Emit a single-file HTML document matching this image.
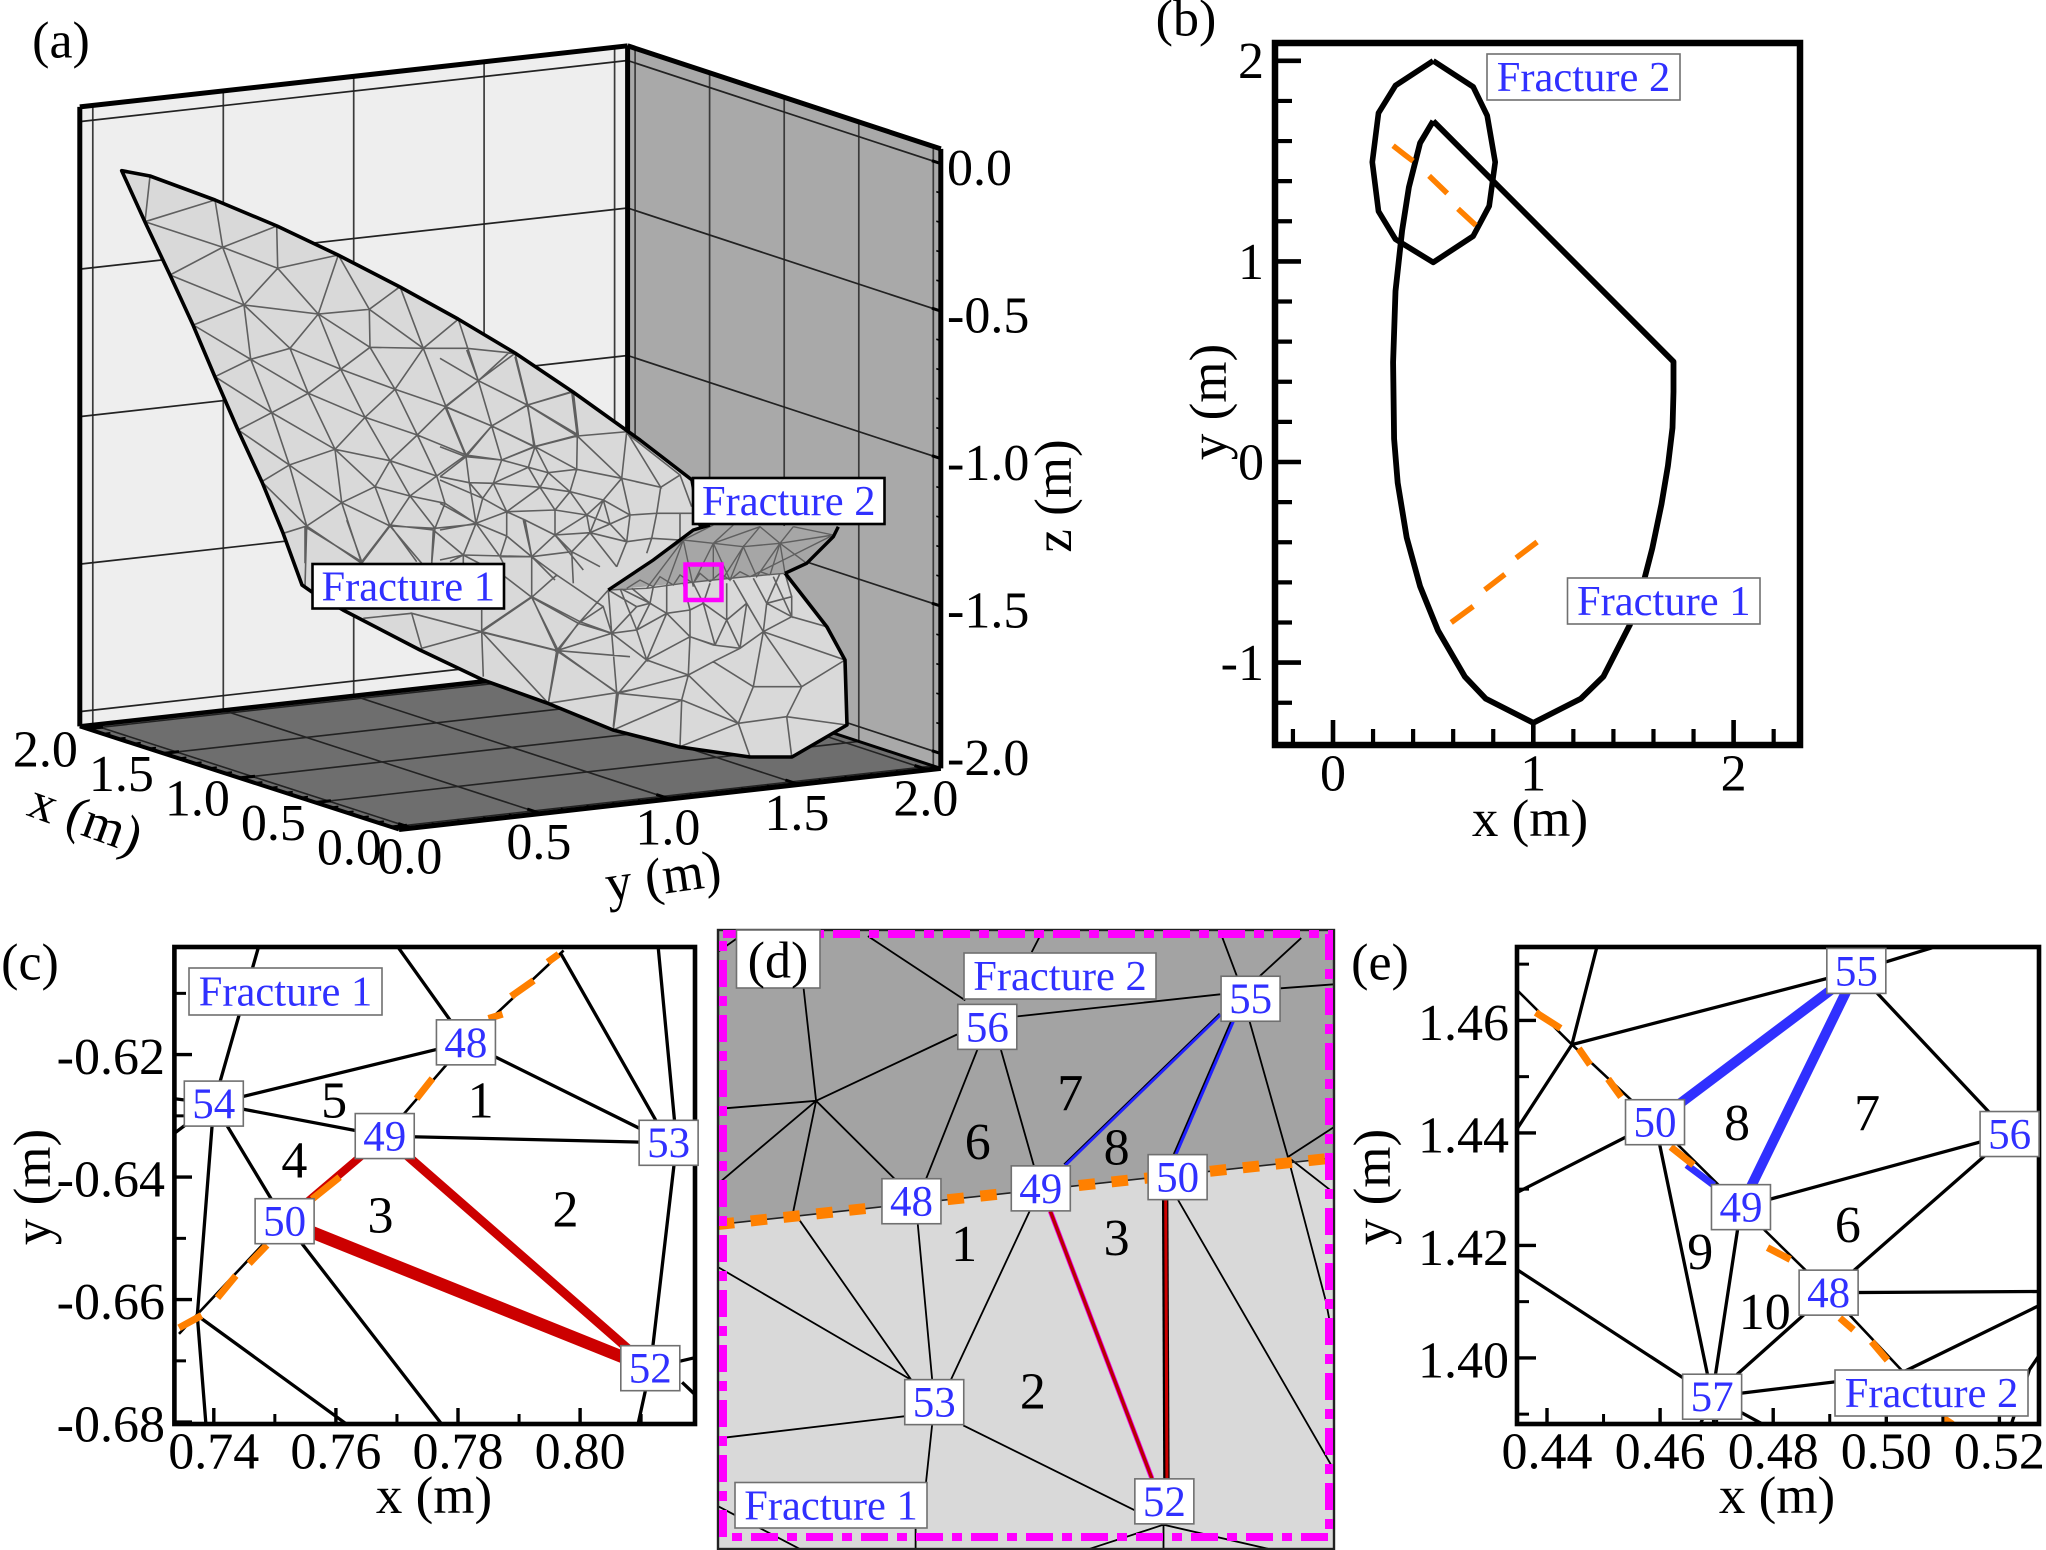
<!DOCTYPE html>
<html lang="en">
<head>
<meta charset="utf-8">
<title>Fracture mesh figure</title>
<style>
html,body{margin:0;padding:0;background:#fff;}
svg{display:block;}
text{font-family:"Liberation Serif",serif;}
</style>
</head>
<body>
<svg id="figure" xmlns="http://www.w3.org/2000/svg" width="2046" height="1550" viewBox="0 0 2046 1550">
<rect x="0" y="0" width="2046" height="1550" fill="#ffffff"/>
<defs>
<clipPath id="clipB"><rect x="1275" y="43" width="525" height="702"/></clipPath>
<clipPath id="clipC"><rect x="174" y="947" width="521" height="477"/></clipPath>
<clipPath id="clipD"><rect x="718" y="930" width="616" height="619"/></clipPath>
<clipPath id="clipE"><rect x="1517" y="947" width="522" height="477"/></clipPath>
</defs>
<g id="panelA"></g>
<g id="panelB"></g>
<g id="panelC"></g>
<g id="panelD"></g>
<g id="panelE"></g>
</svg>
<script>
/* ---------- Panel (a): axes ---------- */
const aTicks = [0, 0.5, 1, 1.5, 2];
const aTickLabels = ['0.0', '0.5', '1.0', '1.5', '2.0'];
const aZTicks = [0, -0.5, -1, -1.5, -2];
const aZTickLabels = ['0.0', '-0.5', '-1.0', '-1.5', '-2.0'];
const aMinorTicks = [0.1, 0.2, 0.3, 0.4, 0.6, 0.7, 0.8, 0.9, 1.1, 1.2, 1.3, 1.4, 1.6, 1.7, 1.8, 1.9];
const aRange = [-0.05, 2.05];
const aZRange = [-2.05, 0.05];

/* Panel (a) fracture surfaces, in unitless view-plane mesh coordinates. */
const f1OutlineU = [365, 450, 645, 831, 1014, 1200, 1374, 1545, 1719, 1920, 2076, 2100, 2355, 2481, 2535, 2541, 2376, 2250, 2040, 1839, 1641, 1449, 1260, 1029, 936, 906, 849, 786, 714, 645, 579, 510, 435];
const f1OutlineV = [512, 528, 600, 678, 765, 861, 957, 1059, 1176, 1320, 1440, 1575, 1719, 1881, 1980, 2175, 2271, 2271, 2241, 2190, 2109, 2040, 1950, 1830, 1776, 1755, 1599, 1446, 1290, 1131, 975, 825, 666];
const f1UpperChains = [
 [270,108,255,245,465,180,488,322,650,258,653,385,835,345,928,508,1020,440,1090,625,1195,538,1255,722,1365,640,1403,795,1540,755,1555,885,1403,795],
 [255,245,488,322,653,385,775,522,928,508,1090,625,1220,625,1365,640],
 [330,405,488,322,552,495,330,405],
 [400,555,552,495,653,385],
 [552,495,775,522,835,345],
 [928,508,930,622,1090,625],
 [400,555,572,658,552,495,690,625,775,522,842,688,930,622,775,522],
 [465,710,572,658,690,625,842,688,1005,748,1158,800,1295,858,1422,920,1555,885],
 [930,622,1005,748,1090,625,1158,800,1255,722,1295,858,1403,795,1422,920],
 [930,622,842,688],
 [465,710,635,818,745,760,915,832,1072,885,1218,945,1325,960,1422,920],
 [572,658,635,818,688,975,825,928,990,962,1130,1008],
 [572,658,745,760,690,625],
 [745,760,842,688,915,832,1005,748,1072,885,1158,800,1218,945,1295,858,1325,960],
 [535,870,635,818,825,928,745,760],
 [825,928,915,832,990,962,1072,885,1130,1008,1218,945],
 [535,870,688,975,605,1025,740,1158,670,1180],
 [688,975,845,1088,825,928,945,1040,990,962,1050,1068,1130,1008,1155,1090,1050,1068,945,1040,845,1088,740,1158,905,1270],
 [688,975,740,1158,735,1340],
 [845,1088,990,1158,945,1040],
 [845,1088,905,1270,990,1158,1085,1270],
 [990,1158,1050,1068,1125,1165,1155,1090,1250,1152,1125,1165,990,1158],
 [1125,1165,1115,1270]
];
const f1CenterChains = [
 [80,0,115,92,210,5],
 [0,25,115,92,15,170,155,228,115,92,262,165,225,20],
 [262,165,155,228,285,290,262,165,395,125,412,258,262,165],
 [155,228,78,320,15,170],
 [155,228,185,330,78,320,0,290],
 [412,258,285,290,185,330],
 [412,258,560,245,545,385,412,258,410,358,285,290],
 [560,245,662,412,545,385,410,358,325,368,285,290,265,352,185,330],
 [662,412,720,375,560,250],
 [720,375,755,470],
 [662,412,650,490,570,495,545,385],
 [265,352,325,368,300,412,265,352,160,400,185,330],
 [78,320,88,398,0,380],
 [78,320,0,380],
 [88,398,160,400,128,445,88,398],
 [160,400,300,412,390,425,410,358],
 [325,368,390,425,490,450,545,385],
 [160,400,200,485,128,445,108,520,88,398],
 [300,412,345,480,390,425,440,495,490,450,510,522,440,495,345,480,200,485,300,412],
 [345,480,345,555,440,495],
 [490,450,570,495,510,522],
 [200,485,108,520,200,558,200,485,255,510,345,555,275,620,255,510],
 [108,520,70,615],
 [108,520,180,620,200,558,275,620,180,620],
 [345,555,450,548,510,522,560,575,570,495],
 [440,495,450,548,395,605,345,555],
 [395,605,275,620],
 [560,575,635,565,650,490],
 [635,565,720,570,720,490,755,490,650,490],
 [275,620,275,720],
 [395,605,400,700],
 [395,605,480,650],
 [560,575,530,650],
 [635,565,620,610],
 [720,570,740,620],
 [450,548,560,575],
 [0,460,108,520],
 [0,540,108,520],
 [0,390,128,445],
 [180,620,190,640],
 [70,615,0,630],
 [70,615,70,640],
 [490,450,450,548],
 [395,605,450,548],
 [450,548,530,650],
 [345,555,395,605],
 [275,620,345,690],
 [345,555,430,660]
];
const f1LowerChains = [
 [0,575,155,470,300,545,395,580,470,570,500,660,395,580,230,632,300,545],
 [155,470,230,632,0,575],
 [230,632,205,790],
 [230,632,415,760,500,660,625,705,700,665,780,625,850,575,935,530,1040,560],
 [415,760,400,870,605,780,600,920,775,850,810,950],
 [415,760,605,780,625,705,775,850,605,780],
 [415,760,625,705],
 [775,850,820,740,700,665],
 [775,850,920,830,1100,855],
 [920,830,935,950],
 [820,740,965,740,920,830],
 [820,740,850,575,965,740,1095,660,850,575],
 [385,450,395,580,300,545,385,450],
 [420,445,470,570,510,490,560,520,470,570],
 [385,450,470,500,395,580],
 [470,500,510,490,420,445],
 [455,445,510,490,520,440],
 [560,430,560,520,630,590,700,615,780,625],
 [560,520,500,660,630,590,625,705],
 [610,430,630,510,560,520],
 [630,510,630,590],
 [630,510,670,490,640,430],
 [670,490,705,615,630,590],
 [670,490,690,430],
 [670,490,740,540,705,615],
 [740,540,780,625],
 [740,430,740,540,800,490,760,420],
 [800,490,780,625],
 [800,490,850,575,860,490,820,415],
 [860,490,935,530,880,410],
 [860,490,900,400],
 [860,490,935,470,935,530],
 [935,470,915,400]
];
const f1LeftChains = [
 [15,20,185,125,270,15,350,125],
 [15,20,15,130],
 [185,125,140,0],
 [270,15,400,30,395,125],
 [400,30,490,105,530,5],
 [490,105,695,110,695,232,615,170],
 [490,105,450,125],
 [490,105,615,170],
 [695,110,670,0],
 [695,110,770,165,695,232],
 [695,232,835,310,775,392,695,232],
 [695,232,545,335,775,392,950,518,935,340,835,310,910,260,935,340],
 [545,335,335,280,365,385,545,335],
 [545,270,545,335,550,470],
 [545,335,745,550,775,392],
 [745,550,950,518,940,620],
 [950,518,990,510],
 [775,392,990,410],
 [335,280,190,295],
 [910,260,770,165]
];
const f2OutlineU = [385, 520, 640, 690, 1075, 1060, 980, 915];
const f2OutlineV = [450, 360, 270, 255, 260, 290, 370, 400];
const f2Chains = [
 [385,450,500,445,610,430,700,420,800,410,915,400],
 [500,445,610,300,640,440],
 [560,435,610,300],
 [640,430,700,310,700,420],
 [700,310,750,420,790,320,830,410,900,310,870,405],
 [790,320,720,430],
 [900,310,915,400],
 [900,310,980,370],
 [1060,285,900,310],
 [610,300,700,310,790,320,900,310],
 [610,300,700,255],
 [700,310,760,255],
 [790,320,840,260],
 [900,310,940,260],
 [700,310,840,260,900,310],
 [1060,285,940,260],
 [1060,285,830,400],
 [385,450,610,300],
 [440,445,480,420,520,440,540,410,580,435,600,405,640,430,660,400,690,425,720,400,750,420,780,395,810,410,840,395,870,405]
];

/* ---------- Panel (b) ---------- */
const bXMajor = [0, 1, 2];
const bYMajor = [-1, 0, 1, 2];
const bXMinor = [-0.2, 0.2, 0.4, 0.6, 0.8, 1.2, 1.4, 1.6, 1.8, 2.2];
const bYMinor = [-1.2, -0.8, -0.6, -0.4, -0.2, 0.2, 0.4, 0.6, 0.8, 1.2, 1.4, 1.6, 1.8];
const bFracture1X = [0.5, 1.7, 1.7, 1.695, 1.672, 1.64, 1.594, 1.55, 1.483, 1.35, 1.237, 1, 0.763, 0.658, 0.524, 0.435, 0.368, 0.323, 0.305, 0.3, 0.312, 0.345, 0.379, 0.435, 0.5];
const bFracture1Y = [1.7, 0.5, 0.35, 0.17, -0.02, -0.21, -0.43, -0.6, -0.81, -1.07, -1.18, -1.3, -1.18, -1.07, -0.84, -0.62, -0.377, -0.104, 0.115, 0.497, 0.852, 1.153, 1.37, 1.59, 1.7];
const bFracture2X = [0.5, 0.7, 0.77, 0.81, 0.78, 0.7, 0.5, 0.312, 0.227, 0.196, 0.227, 0.312, 0.5];
const bFracture2Y = [2.0, 1.87, 1.727, 1.495, 1.276, 1.126, 0.995, 1.11, 1.25, 1.495, 1.74, 1.877, 2.0];
const bCutX = [[0.3, 0.36, 0.4], [0.48, 0.57], [0.624, 0.713], [0.59, 0.7], [0.758, 0.858], [0.914, 1.019]];
const bCutY = [[1.577, 1.53, 1.5], [1.426, 1.339], [1.262, 1.18], [-0.8, -0.72], [-0.637, -0.56], [-0.478, -0.399]];

/* ---------- Panel (c) ---------- */
const cXMajor = [0.74, 0.76, 0.78, 0.80];
const cXLabels = ['0.74', '0.76', '0.78', '0.80'];
const cXMinor = [0.75, 0.77, 0.79, 0.81];
const cYMajor = [-0.62, -0.64, -0.66, -0.68];
const cYLabels = ['-0.62', '-0.64', '-0.66', '-0.68'];
const cYMinor = [-0.61, -0.63, -0.65, -0.67];
const cNodeIds = ['48', '49', '50', '52', '53', '54'];
const cNodeX = [0.7813, 0.768, 0.7516, 0.8115, 0.8145, 0.74];
const cNodeY = [-0.618, -0.6333, -0.6472, -0.6712, -0.6344, -0.628];
const cCellIds = ['1', '2', '3', '4', '5'];
const cCellX = [0.7837, 0.7976, 0.7673, 0.7532, 0.7597];
const cCellY = [-0.6274, -0.6452, -0.6462, -0.6372, -0.6274];
const cMeshX = [[0.7473,0.74],[0.7702,0.7813],[0.7813,0.74],[0.74,0.768,0.8145],[0.7813,0.8145],[0.7969,0.8145],[0.8128,0.8158,0.8115],[0.8115,0.8095],[0.8115,0.8187],[0.8167,0.8187],[0.74,0.7336],[0.74,0.7336],[0.74,0.7373,0.7387],[0.7373,0.7617],[0.74,0.7516,0.7773]];
const cMeshY = [[-0.6025,-0.628],[-0.6025,-0.618],[-0.618,-0.628],[-0.628,-0.6333,-0.6344],[-0.618,-0.6344],[-0.6036,-0.6344],[-0.6025,-0.6344,-0.6712],[-0.6712,-0.6803],[-0.6712,-0.6695],[-0.6735,-0.6754],[-0.628,-0.6328],[-0.628,-0.6272],[-0.628,-0.6626,-0.6803],[-0.6626,-0.6803],[-0.628,-0.6472,-0.6803]];
const cFractureX = [0.7973, 0.7813, 0.768, 0.7516, 0.7343];
const cFractureY = [-0.603, -0.618, -0.6333, -0.6472, -0.6656];
const cRedX = [[0.768, 0.7516], [0.768, 0.8115], [0.7516, 0.8115]];
const cRedY = [[-0.6333, -0.6472], [-0.6333, -0.6712], [-0.6472, -0.6712]];
const cDashX = [[0.7947,0.7965],[0.7887,0.7924],[0.785,0.7873],[0.7732,0.7758],[0.7561,0.7606],[0.7458,0.7487],[0.7406,0.7436],[0.7343,0.738]];
const cDashY = [[-0.6049,-0.6036],[-0.6105,-0.6079],[-0.6141,-0.6134],[-0.6272,-0.6239],[-0.6436,-0.64],[-0.6541,-0.6511],[-0.6597,-0.6561],[-0.6646,-0.6626]];

/* ---------- Panel (d): unitless mesh coordinates (no axes in the panel) ---------- */
const dNodeIds = ['48', '49', '50', '52', '53', '55', '56'];
const dNodeU = [510, 822, 1152, 1120, 565, 1328, 693];
const dNodeV = [700, 668, 640, 1447, 1200, 196, 266];
const dCellIds = ['1', '2', '3', '6', '7', '8'];
const dCellU = [637, 803, 1005, 670, 893, 1005];
const dCellV = [805, 1172, 790, 552, 430, 565];
const dDividerU = [43, 1530];
const dDividerV = [758, 592];
const dMeshChains = [
 [250,170,280,450],[405,40,640,200],[825,30,800,80],[620,285,280,450],[1255,30,1295,140],[1450,45,1350,140],
 [765,240,1255,185],[1400,170,1530,160],[670,320,545,645],[725,320,805,610],[280,450,470,645],[280,450,225,725],
 [280,450,45,470],[280,450,45,655],[1325,250,1418,590],[1418,590,1530,515],[1418,590,1530,680],[1418,590,1510,950,1530,1060],
 [45,78,90,45],[225,725,510,1145],[525,755,560,1145],[795,725,605,1145],[45,865,510,1145],[45,1290,495,1235],[560,1255,545,1400],
 [635,1258,1050,1470],[1152,695,1530,1370],[1118,1505,940,1565],[1118,1505,1118,1565],[1118,1505,1370,1565],[520,1515,520,1565],[45,1460,240,1565]
];
const dFractureLine1U = [845, 1090];
const dFractureLine1V = [725, 1390];
const dFractureLine2U = [1122, 1125];
const dFractureLine2V = [695, 1390];
const dBlueLine1U = [880, 1255];
const dBlueLine1V = [610, 235];
const dBlueLine2U = [1145, 1285];
const dBlueLine2V = [585, 250];

/* ---------- Panel (e) ---------- */
const eXMajor = [0.44, 0.46, 0.48, 0.50, 0.52];
const eXLabels = ['0.44', '0.46', '0.48', '0.50', '0.52'];
const eXMinor = [0.45, 0.47, 0.49, 0.51];
const eYMajor = [1.46, 1.44, 1.42, 1.40];
const eYLabels = ['1.46', '1.44', '1.42', '1.40'];
const eYMinor = [1.47, 1.45, 1.43, 1.41, 1.39];
const eNodeIds = ['50', '49', '48', '55', '56', '57'];
const eNodeX = [0.4591, 0.4743, 0.4898, 0.4947, 0.5218, 0.4692];
const eNodeY = [1.4419, 1.4268, 1.4116, 1.4688, 1.4398, 1.3931];
const eCellIds = ['8', '7', '6', '9', '10'];
const eCellX = [0.4736, 0.4966, 0.4932, 0.4671, 0.4785];
const eCellY = [1.4418, 1.4436, 1.4237, 1.4189, 1.4082];
const eMeshX = [[0.4488,0.4444,0.4347],[0.4444,0.4947,0.5081],[0.4947,0.5218],[0.4591,0.4347],[0.4743,0.5218],[0.5218,0.4898],[0.4898,0.527],[0.4898,0.4692],[0.4591,0.4692],[0.4743,0.4692],[0.4347,0.4692],[0.4692,0.5022,0.527],[0.5221,0.5253,0.527],[0.4692,0.4782],[0.4692,0.4671],[0.4692,0.4695]];
const eMeshY = [[1.473,1.4557,1.4407],[1.4557,1.4688,1.4729],[1.4688,1.4398],[1.4419,1.4294],[1.4268,1.4398],[1.4398,1.4116],[1.4116,1.4118],[1.4116,1.3931],[1.4419,1.3931],[1.4268,1.3931],[1.4157,1.3931],[1.3931,1.3971,1.4093],[1.3882,1.3979,1.4004],[1.3931,1.3882],[1.3931,1.3882],[1.3931,1.3882]];
const eFractureX = [0.4347, 0.4444, 0.4591, 0.4743, 0.4898, 0.5117];
const eFractureY = [1.4654, 1.4557, 1.4419, 1.4268, 1.4116, 1.3882];
const eBlueX = [[0.4591, 0.4947], [0.4743, 0.4947], [0.4647, 0.4695]];
const eBlueY = [[1.4419, 1.4688], [1.4268, 1.4688], [1.4343, 1.4307]];
const eDashX = [[0.438,0.4424],[0.4456,0.4476],[0.4508,0.4531],[0.4619,0.4659],[0.479,0.483],[0.4918,0.4942],[0.4974,0.5002],[0.5101,0.5117]];
const eDashY = [[1.4614,1.4586],[1.455,1.4521],[1.4496,1.4464],[1.4375,1.4343],[1.4196,1.4175],[1.4071,1.405],[1.4029,1.3996],[1.3893,1.3882]];

/* ---------- Helpers ---------- */
const NS = 'http://www.w3.org/2000/svg';
const BLUE = '#3030ff';
const ORANGE = '#ff8000';
const TICK_FS = 52;
const TITLE_FS = 53;
const CELL_FS = 52;
const NODE_FS = 43;
const FRAC_FS = 42.5;
function add(parent, tag, name, attrs) {
  const el = document.createElementNS(NS, tag);
  
  
  for (const k in attrs) el.setAttribute(k, attrs[k]);
  parent.appendChild(el);
  return el;
}
function seg(parent, name, x1, y1, x2, y2, stroke, width) {
  return add(parent, 'line', name, {x1: x1, y1: y1, x2: x2, y2: y2, stroke: stroke, 'stroke-width': width});
}
function label(parent, name, x, cy, str, size, anchor, fill, rotate) {
  const el = add(parent, 'text', name, {x: x, y: cy + size * 0.335, 'font-size': size, 'text-anchor': anchor || 'middle', fill: fill || '#000'});
  if (rotate) el.setAttribute('transform', 'rotate(' + rotate + ' ' + x + ' ' + cy + ')');
  el.textContent = str;
  return el;
}
function boxLabel(parent, name, x, y, w, h, str, size, stroke, sw) {
  add(parent, 'rect', name + '-box', {x: x, y: y, width: w, height: h, fill: '#fff', stroke: stroke || '#707070', 'stroke-width': sw || 1.6});
  label(parent, name, x + w / 2, y + h / 2, str, size, 'middle', BLUE);
}
function polyD(xs, ys, sx, sy, close) {
  let d = '';
  for (let i = 0; i < xs.length; i++) d += (i ? 'L' : 'M') + sx(xs[i]).toFixed(1) + ' ' + sy(ys[i]).toFixed(1);
  return d + (close ? 'Z' : '');
}
function chainsD(chains, sx, sy) {
  let d = '';
  for (const c of chains) {
    for (let i = 0; i < c.length; i += 2) d += (i ? 'L' : 'M') + sx(c[i]).toFixed(1) + ' ' + sy(c[i + 1]).toFixed(1);
  }
  return d;
}
function nestedD(xss, yss, sx, sy) {
  let d = '';
  xss.forEach((xs, k) => { d += polyD(xs, yss[k], sx, sy); });
  return d;
}

/* ---------- Panel (a) drawing ---------- */
(function () {
  const g = document.getElementById('panelA');
  function project3d(x, y, z) {
    const a = x + 0.05, b = y + 0.05, c = z + 2.05;
    return [399 - 152 * a + 258 * b + 6 * (a / 2.1) * (b / 2.1), 829.5 - 49.1 * a - 29.1 * b - 295 * c];
  }
  const [lo, hi] = aRange, [zlo, zhi] = aZRange;
  function face(name, pts, fill) {
    add(g, 'polygon', name, {points: pts.map(p => project3d(p[0], p[1], p[2]).map(v => v.toFixed(1)).join(',')).join(' '), fill: fill});
  }
  function line3(name, a, b, stroke, w) {
    const p = project3d(a[0], a[1], a[2]), q = project3d(b[0], b[1], b[2]);
    return seg(g, name, p[0].toFixed(1), p[1].toFixed(1), q[0].toFixed(1), q[1].toFixed(1), stroke, w);
  }
  face('left-wall', [[hi, lo, zlo], [hi, hi, zlo], [hi, hi, zhi], [hi, lo, zhi]], '#eeeeee');
  face('right-wall', [[hi, hi, zlo], [lo, hi, zlo], [lo, hi, zhi], [hi, hi, zhi]], '#a9a9a9');
  face('floor', [[hi, lo, zlo], [hi, hi, zlo], [lo, hi, zlo], [lo, lo, zlo]], '#6e6e6e');
  for (const t of aTicks) {
    line3('left-wall-grid-y', [hi, t, zlo], [hi, t, zhi], '#3a3a3a', 1.7);
    line3('right-wall-grid-x', [t, hi, zlo], [t, hi, zhi], '#3a3a3a', 1.7);
    line3('floor-grid-y', [lo, t, zlo], [hi, t, zlo], '#222', 1.6);
    line3('floor-grid-x', [t, lo, zlo], [t, hi, zlo], '#222', 1.6);
  }
  for (const z of aZTicks) {
    line3('left-wall-grid-z', [hi, lo, z], [hi, hi, z], '#222', 1.7);
    line3('right-wall-grid-z', [lo, hi, z], [hi, hi, z], '#222', 1.7);
  }
  line3('back-vertical-edge', [hi, hi, zlo], [hi, hi, zhi], '#000', 5);
  line3('floor-back-left-edge', [hi, lo, zlo], [hi, hi, zlo], '#000', 4.5);
  line3('floor-back-right-edge', [hi, hi, zlo], [lo, hi, zlo], '#000', 3);
  line3('top-left-edge', [hi, lo, zhi], [hi, hi, zhi], '#000', 5);
  line3('top-right-edge', [hi, hi, zhi], [lo, hi, zhi], '#000', 5);
  line3('left-vertical-edge', [hi, lo, zlo], [hi, lo, zhi], '#000', 5);
  line3('z-axis-line', [lo, hi, zlo], [lo, hi, zhi], '#000', 5);
  line3('x-axis-line', [lo, lo, zlo], [hi, lo, zlo], '#000', 4);
  line3('y-axis-line', [lo, lo, zlo], [lo, hi, zlo], '#000', 5);

  for (const t of aMinorTicks) {
    line3('y-axis-minor-tick', [lo, t, zlo], [lo + 0.04, t, zlo], '#000', 1.8);
    line3('x-axis-minor-tick', [t, lo, zlo], [t, lo + 0.03, zlo], '#000', 1.8);
    line3('z-axis-minor-tick', [lo, hi, t - 2], [lo + 0.03, hi, t - 2], '#000', 1.6);
  }
  aTicks.forEach((t, i) => {
    line3('y-axis-tick', [lo, t, zlo], [lo + 0.09, t, zlo], '#000', 3);
    line3('x-axis-tick', [t, lo, zlo], [t, lo + 0.06, zlo], '#000', 3);
    let p = project3d(t, lo, zlo);
    label(g, 'x-tick-label', p[0] - 42, p[1] + 20, aTickLabels[i], TICK_FS);
    p = project3d(lo, t, zlo);
    label(g, 'y-tick-label', p[0] - 2, p[1] + 28, aTickLabels[i], TICK_FS);
  });
  aZTicks.forEach((z, i) => {
    line3('z-axis-tick', [lo, hi, z], [lo + 0.06, hi, z], '#000', 3);
    const p = project3d(lo, hi, z);
    label(g, 'z-tick-label', 947, p[1] + 4, aZTickLabels[i], TICK_FS, 'start');
  });
  label(g, 'x-axis-title', 86, 818, 'x (m)', TITLE_FS, 'middle', '#000', 20);
  label(g, 'y-axis-title', 663, 876, 'y (m)', TITLE_FS, 'middle', '#000', -8);
  label(g, 'z-axis-title', 1053, 496, 'z (m)', TITLE_FS, 'middle', '#000', -90);
  label(g, 'panel-a-label', 61, 40, '(a)', TICK_FS);

  /* view-plane scales for the mesh readings */
  const px = u => u / 3, py = v => v / 3;
  const upX = u => 60 + u / 3, upY = v => 140 + v / 3;
  const ceX = u => 440 + u / 3, ceY = v => 350 + v / 3;
  const loX = u => 480 + u / 3, loY = v => 440 + v / 3;
  const leX = u => 300 + u / 3, leY = v => 520 + v / 3;
  add(g, 'path', 'fracture-1-surface', {d: polyD(f1OutlineU, f1OutlineV, px, py, true), fill: '#d9d9d9', stroke: 'none'});
  add(g, 'path', 'fracture-1-mesh', {d: chainsD(f1UpperChains, upX, upY) + chainsD(f1CenterChains, ceX, ceY) + chainsD(f1LowerChains, loX, loY) + chainsD(f1LeftChains, leX, leY), fill: 'none', stroke: '#5f5f5f', 'stroke-width': 1.6});
  add(g, 'path', 'fracture-1-outline', {d: polyD(f1OutlineU, f1OutlineV, px, py, true), fill: 'none', stroke: '#000', 'stroke-width': 3.6, 'stroke-linejoin': 'round'});
  add(g, 'path', 'fracture-2-surface', {d: polyD(f2OutlineU, f2OutlineV, loX, loY, true), fill: '#a6a6a6', stroke: 'none'});
  add(g, 'path', 'fracture-2-mesh', {d: chainsD(f2Chains, loX, loY), fill: 'none', stroke: '#5f5f5f', 'stroke-width': 1.4});
  add(g, 'path', 'fracture-2-edge', {d: polyD(f2OutlineU.slice(0, 4), f2OutlineV.slice(0, 4), loX, loY) + polyD(f2OutlineU.slice(4), f2OutlineV.slice(4), loX, loY), fill: 'none', stroke: '#000', 'stroke-width': 3.4});
  add(g, 'rect', 'zoom-region-marker', {x: 685.5, y: 564.5, width: 36, height: 35.5, fill: 'none', stroke: '#ff00ff', 'stroke-width': 4.5});
  boxLabel(g, 'fracture-1-label', 312.5, 564, 191.5, 44.5, 'Fracture 1', FRAC_FS, '#000', 2.6);
  boxLabel(g, 'fracture-2-label', 693, 478, 191.5, 46, 'Fracture 2', FRAC_FS, '#000', 2.6);
})();

/* ---------- Panel (b) drawing ---------- */
(function () {
  const g = document.getElementById('panelB');
  const sx = x => 1333 + x * 200.3, sy = y => 462 - y * 200.6;
  const clip = add(g, 'g', 'panel-b-plot-area', {'clip-path': 'url(#clipB)'});
  add(clip, 'path', 'fracture-1-outline', {d: polyD(bFracture1X, bFracture1Y, sx, sy), fill: 'none', stroke: '#000', 'stroke-width': 5.8, 'stroke-linejoin': 'round'});
  add(clip, 'path', 'fracture-2-outline', {d: polyD(bFracture2X, bFracture2Y, sx, sy), fill: 'none', stroke: '#000', 'stroke-width': 5.6, 'stroke-linejoin': 'round'});
  add(clip, 'path', 'intersection-line', {d: nestedD(bCutX, bCutY, sx, sy), fill: 'none', stroke: ORANGE, 'stroke-width': 5.5});
  add(g, 'rect', 'panel-b-frame', {x: 1275, y: 43, width: 525, height: 702, fill: 'none', stroke: '#000', 'stroke-width': 6.5});
  for (const x of bXMajor) {
    seg(g, 'x-major-tick', sx(x), 745, sx(x), 720, '#000', 4.6);
    label(g, 'x-tick-label', sx(x), 773, String(x), TICK_FS);
  }
  for (const x of bXMinor) seg(g, 'x-minor-tick', sx(x), 745, sx(x), 729, '#000', 4.2);
  for (const y of bYMajor) {
    seg(g, 'y-major-tick', 1275, sy(y), 1301, sy(y), '#000', 4.6);
    label(g, 'y-tick-label', 1264, sy(y), String(y), TICK_FS, 'end');
  }
  for (const y of bYMinor) seg(g, 'y-minor-tick', 1275, sy(y), 1292, sy(y), '#000', 4.2);
  label(g, 'x-axis-title', 1530, 818, 'x (m)', TITLE_FS);
  label(g, 'y-axis-title', 1208, 402, 'y (m)', TITLE_FS, 'middle', '#000', -90);
  label(g, 'panel-b-label', 1186, 18, '(b)', TICK_FS);
  boxLabel(g, 'fracture-2-label', 1487, 54, 193, 46, 'Fracture 2', FRAC_FS);
  boxLabel(g, 'fracture-1-label', 1567.5, 578, 192.5, 46, 'Fracture 1', FRAC_FS);
})();

/* ---------- Panel (c) drawing ---------- */
(function () {
  const g = document.getElementById('panelC');
  const sx = x => 213.8 + (x - 0.74) * 6105, sy = y => 1054.6 + (-0.62 - y) * 6125;
  const clip = add(g, 'g', 'panel-c-plot-area', {'clip-path': 'url(#clipC)'});
  add(clip, 'path', 'mesh-edges', {d: nestedD(cMeshX, cMeshY, sx, sy), fill: 'none', stroke: '#000', 'stroke-width': 3.3});
  add(clip, 'path', 'fracture-intersection-line', {d: polyD(cFractureX, cFractureY, sx, sy), fill: 'none', stroke: '#000', 'stroke-width': 2.6});
  seg(clip, 'red-edge-49-50', sx(cRedX[0][0]), sy(cRedY[0][0]), sx(cRedX[0][1]), sy(cRedY[0][1]), '#cc0000', 8);
  seg(clip, 'red-edge-49-52', sx(cRedX[1][0]), sy(cRedY[1][0]), sx(cRedX[1][1]), sy(cRedY[1][1]), '#cc0000', 9);
  seg(clip, 'red-edge-50-52', sx(cRedX[2][0]), sy(cRedY[2][0]), sx(cRedX[2][1]), sy(cRedY[2][1]), '#cc0000', 12.5);
  add(clip, 'path', 'intersection-dashes', {d: nestedD(cDashX, cDashY, sx, sy), fill: 'none', stroke: ORANGE, 'stroke-width': 7});
  add(g, 'rect', 'panel-c-frame', {x: 174.4, y: 947, width: 520.6, height: 477, fill: 'none', stroke: '#000', 'stroke-width': 4.6});
  cXMajor.forEach((x, i) => {
    seg(g, 'x-major-tick', sx(x), 1424, sx(x), 1408, '#000', 3.4);
    label(g, 'x-tick-label', sx(x), 1451, cXLabels[i], TICK_FS);
  });
  for (const x of cXMinor) seg(g, 'x-minor-tick', sx(x), 1424, sx(x), 1414, '#000', 3);
  cYMajor.forEach((y, i) => {
    seg(g, 'y-major-tick', 174, sy(y), 192, sy(y), '#000', 3.4);
    label(g, 'y-tick-label', 165, sy(y) + 2, cYLabels[i], TICK_FS, 'end');
  });
  for (const y of cYMinor) seg(g, 'y-minor-tick', 174, sy(y), 186, sy(y), '#000', 3);
  cCellIds.forEach((c, i) => label(g, 'cell-number', sx(cCellX[i]), sy(cCellY[i]), c, CELL_FS));
  cNodeIds.forEach((n, i) => boxLabel(g, 'node-' + n, sx(cNodeX[i]) - 29.5, sy(cNodeY[i]) - 22.5, 59, 45, n, NODE_FS));
  boxLabel(g, 'fracture-1-label', 189, 968, 193, 47, 'Fracture 1', FRAC_FS);
  label(g, 'x-axis-title', 434, 1495, 'x (m)', TITLE_FS);
  label(g, 'y-axis-title', 32, 1187, 'y (m)', TITLE_FS, 'middle', '#000', -90);
  label(g, 'panel-c-label', 30, 962, '(c)', TICK_FS);
})();

/* ---------- Panel (d) drawing ---------- */
(function () {
  const g = document.getElementById('panelD');
  const sx = u => 700 + u / 2.412, sy = v => 920 + v / 2.489;
  const clip = add(g, 'g', 'panel-d-plot-area', {'clip-path': 'url(#clipD)'});
  add(clip, 'rect', 'fracture-1-background', {x: 718, y: 930, width: 616, height: 619, fill: '#d9d9d9'});
  const xa = sx(dDividerU[0]), ya = sy(dDividerV[0]), xb = sx(dDividerU[1]), yb = sy(dDividerV[1]);
  add(clip, 'polygon', 'fracture-2-region', {points: xa + ',930 ' + xb + ',930 ' + xb + ',' + yb + ' ' + xa + ',' + ya, fill: '#a3a3a3'});
  add(clip, 'path', 'mesh-edges', {d: chainsD(dMeshChains, sx, sy), fill: 'none', stroke: '#000', 'stroke-width': 1.8});
  seg(clip, 'divider-line', xa, ya, xb, yb, '#222', 1.6);
  seg(clip, 'divider-dashes', xa, ya, xb, yb, ORANGE, 11).setAttribute('stroke-dasharray', '16.5 16.5');
  seg(clip, 'edge-49-55-blue', sx(dBlueLine1U[0]), sy(dBlueLine1V[0]), sx(dBlueLine1U[1]), sy(dBlueLine1V[1]), '#2020ff', 3.8);
  seg(clip, 'edge-49-55-core', sx(dBlueLine1U[0]) - 1, sy(dBlueLine1V[0]) - 1, sx(dBlueLine1U[1]) - 1, sy(dBlueLine1V[1]) - 1, '#000', 1);
  seg(clip, 'edge-50-55-black', sx(dBlueLine2U[0]) - 1.2, sy(dBlueLine2V[0]), sx(dBlueLine2U[1]) - 1.2, sy(dBlueLine2V[1]), '#000', 2);
  seg(clip, 'edge-50-55-blue', sx(dBlueLine2U[0]) + 1, sy(dBlueLine2V[0]), sx(dBlueLine2U[1]) + 1, sy(dBlueLine2V[1]), '#2020ff', 3);
  seg(clip, 'edge-49-52-magenta', sx(dFractureLine1U[0]), sy(dFractureLine1V[0]), sx(dFractureLine1U[1]), sy(dFractureLine1V[1]), '#f000f0', 5);
  seg(clip, 'edge-49-52-red', sx(dFractureLine1U[0]), sy(dFractureLine1V[0]), sx(dFractureLine1U[1]), sy(dFractureLine1V[1]), '#b80000', 3.4);
  seg(clip, 'edge-50-52-black', sx(dFractureLine2U[0]), sy(dFractureLine2V[0]), sx(dFractureLine2U[1]), sy(dFractureLine2V[1]), '#000', 6.4);
  seg(clip, 'edge-50-52-red', sx(dFractureLine2U[0]) + 0.5, sy(dFractureLine2V[0]), sx(dFractureLine2U[1]) + 0.5, sy(dFractureLine2V[1]), '#cc0000', 3);
  add(g, 'rect', 'panel-d-frame', {x: 718, y: 930, width: 616, height: 619, fill: 'none', stroke: '#222', 'stroke-width': 2.4});
  add(g, 'rect', 'magenta-zoom-border', {x: 723, y: 934, width: 606, height: 603, fill: 'none', stroke: '#ff00ff', 'stroke-width': 8, 'stroke-dasharray': '27 9 10 9'});
  dCellIds.forEach((c, i) => label(g, 'cell-number', sx(dCellU[i]), sy(dCellV[i]), c, CELL_FS));
  dNodeIds.forEach((n, i) => boxLabel(g, 'node-' + n, sx(dNodeU[i]) - 29.5, sy(dNodeV[i]) - 22.5, 59, 45, n, NODE_FS));
  add(g, 'rect', 'panel-d-label-box', {x: 736.5, y: 930, width: 83.5, height: 58, fill: '#fff', stroke: '#707070', 'stroke-width': 1.6});
  label(g, 'panel-d-label', 778, 960, '(d)', TICK_FS);
  boxLabel(g, 'fracture-2-label', 964, 953, 192, 46, 'Fracture 2', FRAC_FS);
  boxLabel(g, 'fracture-1-label', 735, 1482.5, 192, 45.5, 'Fracture 1', FRAC_FS);
})();

/* ---------- Panel (e) drawing ---------- */
(function () {
  const g = document.getElementById('panelE');
  const sx = x => 1547 + (x - 0.44) * 5655, sy = y => 1020.4 + (1.46 - y) * 5625;
  const clip = add(g, 'g', 'panel-e-plot-area', {'clip-path': 'url(#clipE)'});
  add(clip, 'path', 'mesh-edges', {d: nestedD(eMeshX, eMeshY, sx, sy), fill: 'none', stroke: '#000', 'stroke-width': 3.3});
  add(clip, 'path', 'fracture-intersection-line', {d: polyD(eFractureX, eFractureY, sx, sy), fill: 'none', stroke: '#000', 'stroke-width': 2.6});
  seg(clip, 'blue-edge-50-55', sx(eBlueX[0][0]), sy(eBlueY[0][0]), sx(eBlueX[0][1]), sy(eBlueY[0][1]), '#3030ff', 10);
  seg(clip, 'blue-edge-49-55', sx(eBlueX[1][0]), sy(eBlueY[1][0]), sx(eBlueX[1][1]), sy(eBlueY[1][1]), '#3030ff', 10);
  seg(clip, 'blue-edge-49-50', sx(eBlueX[2][0]), sy(eBlueY[2][0]), sx(eBlueX[2][1]), sy(eBlueY[2][1]), '#3030ff', 7);
  add(clip, 'path', 'intersection-dashes', {d: nestedD(eDashX, eDashY, sx, sy), fill: 'none', stroke: ORANGE, 'stroke-width': 7});
  add(g, 'rect', 'panel-e-frame', {x: 1517, y: 947, width: 522, height: 477, fill: 'none', stroke: '#000', 'stroke-width': 4.6});
  eXMajor.forEach((x, i) => {
    seg(g, 'x-major-tick', sx(x), 1424, sx(x), 1408, '#000', 3.4);
    label(g, 'x-tick-label', sx(x), 1451, eXLabels[i], TICK_FS);
  });
  for (const x of eXMinor) seg(g, 'x-minor-tick', sx(x), 1424, sx(x), 1414, '#000', 3);
  eYMajor.forEach((y, i) => {
    seg(g, 'y-major-tick', 1517, sy(y), 1536, sy(y), '#000', 3.4);
    label(g, 'y-tick-label', 1509, sy(y) + 2, eYLabels[i], TICK_FS, 'end');
  });
  for (const y of eYMinor) seg(g, 'y-minor-tick', 1517, sy(y), 1529, sy(y), '#000', 3);
  eCellIds.forEach((c, i) => label(g, 'cell-number', sx(eCellX[i]), sy(eCellY[i]), c, CELL_FS));
  eNodeIds.forEach((n, i) => boxLabel(g, 'node-' + n, sx(eNodeX[i]) - 29.5, sy(eNodeY[i]) - 22.5, 59, 45, n, NODE_FS));
  boxLabel(g, 'fracture-2-label', 1835, 1370, 193, 46, 'Fracture 2', FRAC_FS);
  label(g, 'x-axis-title', 1777, 1495, 'x (m)', TITLE_FS);
  label(g, 'y-axis-title', 1372, 1187, 'y (m)', TITLE_FS, 'middle', '#000', -90);
  label(g, 'panel-e-label', 1380, 962, '(e)', TICK_FS);
})();
</script>
</body>
</html>
